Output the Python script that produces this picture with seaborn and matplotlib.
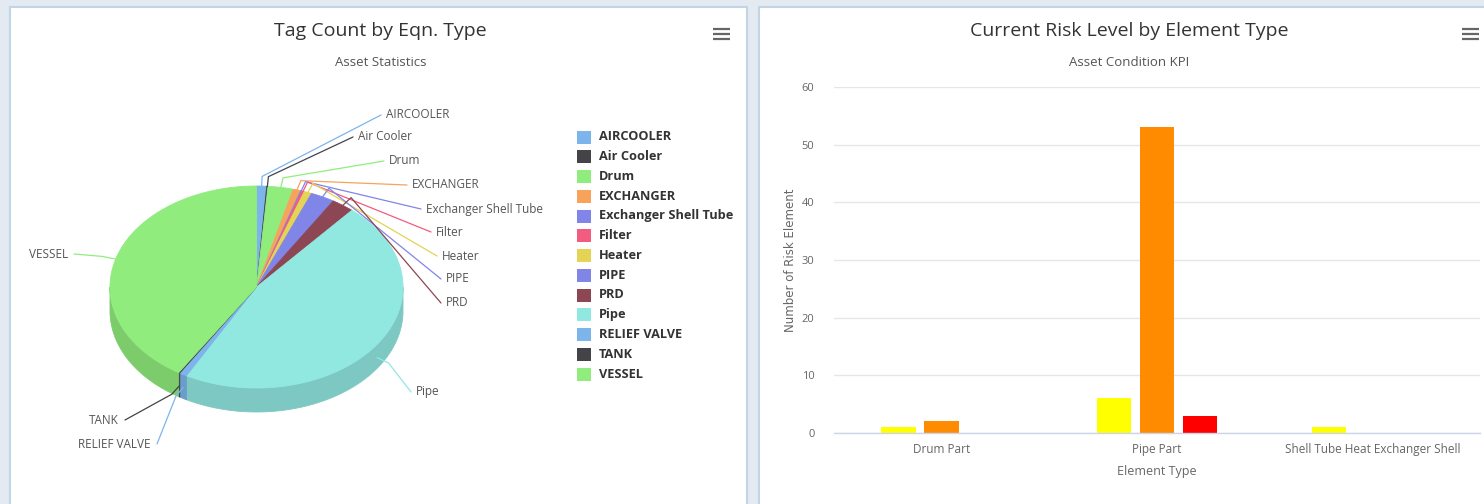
import numpy as np
import pandas as pd
import matplotlib
matplotlib.use("Agg")
import matplotlib.pyplot as plt
import seaborn as sns
from matplotlib.patches import Polygon, Rectangle
from matplotlib.colors import to_rgb

# ---------------- data ----------------
# Tag count by equipment type (pie)
equipment_types = ["AIRCOOLER", "Air Cooler", "Drum", "EXCHANGER", "Exchanger Shell Tube",
                   "Filter", "Heater", "PIPE", "PRD", "Pipe", "RELIEF VALVE", "TANK", "VESSEL"]
tag_counts = [8, 1, 20, 6, 1, 2, 6, 19, 18, 335, 6, 1, 295]
equipment_colors = ["#7cb5ec", "#434348", "#90ed7d", "#f7a35c", "#8085e9", "#f15c80",
                    "#e4d354", "#8085e8", "#8d4653", "#91e8e1", "#7cb5ec", "#434348", "#90ed7d"]

# Risk elements by element type (grouped bars)
element_types = ["Drum Part", "Pipe Part", "Shell Tube Heat Exchanger Shell"]
risk_levels = ["Low", "Medium", "High"]
low_risk = [1, 6, 1]
medium_risk = [2, 53, 0]
high_risk = [0, 3, 0]
risk_colors = ["#ffff00", "#ff8c00", "#ff0000"]
y_ticks = [0, 10, 20, 30, 40, 50, 60]

# ---------------- style ----------------
sns.set_theme(style="white")
plt.rcParams["font.family"] = ["Open Sans", "DejaVu Sans"]

W, H = 1484, 504
fig = plt.figure(figsize=(W / 100, H / 100), dpi=100)
fig.patch.set_facecolor("#e3eaf1")

# full-figure canvas in pixel units for the cards and the pie
bg = fig.add_axes([0, 0, 1, 1])
bg.set_xlim(0, W)
bg.set_ylim(H, 0)
bg.axis("off")

# cards
bg.add_patch(Rectangle((10, 7), 737, 500, fc="white", ec="#c3d4e6", lw=1.5, zorder=0))
bg.add_patch(Rectangle((759, 7), 730, 500, fc="white", ec="#c3d4e6", lw=1.5, zorder=0))


def hamburger(x0, x1, ys):
    for y in ys:
        bg.plot([x0, x1], [y, y], color="#666666", lw=1.6, solid_capstyle="butt", zorder=5)


hamburger(713, 730, [29.3, 34.3, 39.3])
hamburger(1462, 1479, [29.3, 34.3, 39.3])

# titles
TITLE_C = "#333333"
SUB_C = "#555555"
bg.text(380.5, 31, "Tag Count by Eqn. Type", ha="center", va="center", fontsize=14, color=TITLE_C)
bg.text(380.5, 63, "Asset Statistics", ha="center", va="center", fontsize=9.5, color=SUB_C)
bg.text(1129, 31, "Current Risk Level by Element Type", ha="center", va="center", fontsize=14, color=TITLE_C)
bg.text(1129, 63, "Asset Condition KPI", ha="center", va="center", fontsize=9.5, color=SUB_C)

# ---------------- 3D-style pie ----------------
cx, cy, rx, ry, depth = 256.5, 287.0, 146.5, 101.0, 24.0


def rim(theta, grow=0.0):
    t = np.radians(theta)
    return cx + (rx + grow) * np.sin(t), cy - (ry + grow * ry / rx) * np.cos(t)


def darker(c, f=0.86):
    r, g, b = to_rgb(c)
    return (r * f, g * f, b * f)


counts = np.asarray(tag_counts, dtype=float)
edges = np.concatenate([[0.0], np.cumsum(counts / counts.sum())]) * 360.0

# side walls (front half only)
for i, col in enumerate(equipment_colors):
    a, b = max(edges[i], 90.0), min(edges[i + 1], 270.0)
    if a < b:
        th = np.linspace(a, b, 80)
        xs, ys = rim(th)
        pts = np.column_stack([np.r_[xs, xs[::-1]], np.r_[ys, ys[::-1] + depth]])
        bg.add_patch(Polygon(pts, closed=True, fc=darker(col), ec=darker(col), lw=0.6, zorder=2))

# top faces
for i, col in enumerate(equipment_colors):
    th = np.linspace(edges[i], edges[i + 1], max(4, int((edges[i + 1] - edges[i]) * 2)))
    xs, ys = rim(th)
    pts = np.column_stack([np.r_[cx, xs], np.r_[cy, ys]])
    bg.add_patch(Polygon(pts, closed=True, fc=col, ec=col, lw=0.6, zorder=3))

# data labels with connectors (label anchor, side)
label_layout = {
    "AIRCOOLER": (386, 115, "left"),
    "Air Cooler": (358, 137, "left"),
    "Drum": (389, 161, "left"),
    "EXCHANGER": (412, 185, "left"),
    "Exchanger Shell Tube": (426, 209, "left"),
    "Filter": (436, 232, "left"),
    "Heater": (442, 256, "left"),
    "PIPE": (446, 279, "left"),
    "PRD": (446, 303, "left"),
    "Pipe": (416, 392, "left"),
    "RELIEF VALVE": (151, 444, "right"),
    "TANK": (119, 420, "right"),
    "VESSEL": (68, 254, "right"),
}
for i, name in enumerate(equipment_types):
    mid = 0.5 * (edges[i] + edges[i + 1])
    x0, y0 = rim(mid)
    x1, y1 = rim(mid, grow=14)
    if np.cos(np.radians(mid)) < 0:
        y0 += depth * 0.55
        y1 += depth * 0.55
    lx, ly, side = label_layout[name]
    ex = lx - 5 if side == "left" else lx + 6
    bg.plot([x0, x1, ex], [y0, y1, ly], color=equipment_colors[i], lw=0.9, zorder=4)
    bg.text(lx, ly, name, ha=side, va="center", fontsize=8.5, color="#555555", zorder=5)

# legend
for i, (name, col) in enumerate(zip(equipment_types, equipment_colors)):
    yy = 137 + i * 19.75
    bg.add_patch(Rectangle((577, yy - 6.5), 14, 13, fc=col, ec="none", zorder=4))
    bg.text(599, yy, name, ha="left", va="center", fontsize=9.2, fontweight="bold",
            color="#333333", zorder=5)

# ---------------- grouped bars ----------------
df = pd.DataFrame({
    "Element Type": np.repeat(element_types, len(risk_levels)),
    "Risk": np.tile(risk_levels, len(element_types)),
    "Count": np.column_stack([low_risk, medium_risk, high_risk]).ravel(),
})

axb = fig.add_axes([834 / W, 1 - 433 / H, (1480 - 834) / W, (433 - 87) / H])
axb.set_facecolor("none")
sns.barplot(data=df, x="Element Type", y="Count", hue="Risk", hue_order=risk_levels,
            order=element_types, palette=risk_colors, saturation=1, width=0.6, gap=0.2,
            legend=False, ax=axb, errorbar=None, edgecolor="none")

axb.set_xlim(-0.5, len(element_types) - 0.5)
axb.set_ylim(0, 60)
axb.set_yticks(y_ticks)
axb.yaxis.grid(True, color="#e6e6e6", lw=1)
axb.xaxis.grid(False)
axb.set_axisbelow(True)
for s in ["top", "right", "left"]:
    axb.spines[s].set_visible(False)
axb.spines["bottom"].set_color("#ccd6eb")
axb.spines["bottom"].set_linewidth(1)

axb.tick_params(axis="y", length=0, pad=14, labelsize=8, labelcolor="#666666")
axb.tick_params(axis="x", which="major", length=0, pad=7, labelsize=8.5, labelcolor="#666666")
axb.set_xticks(np.arange(-0.5, len(element_types)), minor=True)
axb.tick_params(axis="x", which="minor", length=9, width=1, color="#ccd6eb")

axb.set_xlabel("Element Type", fontsize=9, color="#666666", va="center")
axb.xaxis.set_label_coords(0.5, -(471 - 433) / (433 - 87))
axb.set_ylabel("Number of Risk Element", fontsize=8.5, color="#666666", va="center",
               family="DejaVu Sans")
axb.yaxis.set_label_coords((790 - 834) / (1480 - 834), 0.5)

fig.savefig("out.png", dpi=100, facecolor=fig.get_facecolor())
